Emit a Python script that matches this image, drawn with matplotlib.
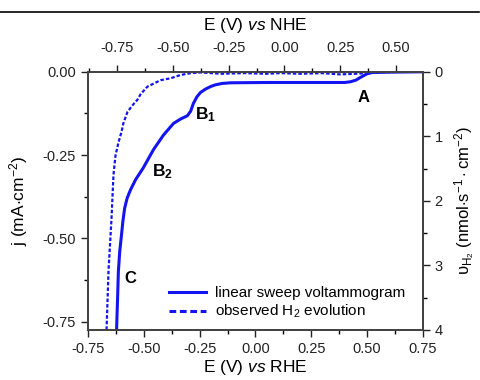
import matplotlib as mpl
mpl.use('Agg')
from matplotlib import pyplot as plt
from matplotlib.lines import Line2D
from matplotlib.ticker import MultipleLocator

plt.rcParams['font.family'] = ['Liberation Sans', 'DejaVu Sans']
plt.rcParams['mathtext.fontset'] = 'custom'
plt.rcParams['mathtext.rm'] = 'Liberation Sans'
plt.rcParams['mathtext.it'] = 'Liberation Sans:italic'
plt.rcParams['mathtext.bf'] = 'Liberation Sans:bold'

# linear sweep voltammogram: E (V vs RHE), j (mA cm-2)
lsv_e = [-0.622, -0.620, -0.618, -0.614, -0.608, -0.600, -0.594, -0.586, -0.575,
         -0.560, -0.537, -0.502, -0.457, -0.412, -0.367, -0.336, -0.305, -0.290,
         -0.278, -0.262, -0.246, -0.224, -0.200, -0.179, -0.150, -0.112, 0.054,
         0.20, 0.40, 0.425, 0.45, 0.47, 0.50, 0.524, 0.60, 0.75]
lsv_j = [-0.775, -0.73, -0.69, -0.60, -0.54, -0.49, -0.45, -0.41, -0.38,
         -0.355, -0.324, -0.288, -0.234, -0.19, -0.155, -0.142, -0.132, -0.118,
         -0.095, -0.075, -0.062, -0.052, -0.044, -0.039, -0.035, -0.033, -0.032,
         -0.032, -0.032, -0.030, -0.025, -0.017, -0.006, -0.002, -0.001, 0.0]

# observed H2 evolution: E (V vs RHE), rate (nmol s-1 cm-2)
h2_e = [-0.667, -0.658, -0.645, -0.636, -0.627, -0.614, -0.600, -0.591, -0.573,
        -0.546, -0.530, -0.515, -0.484, -0.425, -0.380, -0.336, -0.290, -0.246,
        -0.150, -0.050, 0.05, 0.112, 0.20, 0.30, 0.38, 0.45, 0.55, 0.65, 0.75]
h2_v = [4.0, 3.07, 2.29, 1.60, 1.30, 1.10, 0.93, 0.79, 0.62,
        0.50, 0.44, 0.35, 0.23, 0.13, 0.10, 0.05, 0.02, 0.01,
        0.03, 0.02, 0.03, 0.02, 0.03, 0.02, 0.04, 0.03, 0.01, 0.0, 0.0]

nhe_shift = 0.13  # E(NHE) = E(RHE) - shift

blue = '#1414f0'

fig = plt.figure(figsize=(4.81, 3.80), dpi=100)
ax = fig.add_axes([0.183, 0.132, 0.696, 0.679])

ax.plot(lsv_e, lsv_j, color=blue, lw=2.2, label='linear sweep voltammogram')
ax.set_xlim(-0.75, 0.75)
ax.set_ylim(-0.775, 0.0)
ax.xaxis.set_major_locator(MultipleLocator(0.25))
ax.xaxis.set_minor_locator(MultipleLocator(0.125))
ax.yaxis.set_major_locator(MultipleLocator(0.25))
ax.yaxis.set_minor_locator(MultipleLocator(0.125))
ax.xaxis.set_major_formatter(mpl.ticker.FormatStrFormatter('%.2f'))
ax.yaxis.set_major_formatter(mpl.ticker.FormatStrFormatter('%.2f'))
ax.set_xlabel(r'E (V) $\mathit{vs}$ RHE', fontsize=12.5, labelpad=2)
ax.set_ylabel(r'j (mA$\cdot$cm$^{-2}$)', fontsize=12.5, labelpad=9)

ax2 = ax.twinx()
ax2.plot(h2_e, h2_v, color=blue, lw=1.6, linestyle=(0, (1.6, 0.9)),
         label=r'observed H$_2$ evolution')
ax2.set_ylim(4, 0)
ax2.yaxis.set_major_locator(MultipleLocator(1))
ax2.yaxis.set_minor_locator(MultipleLocator(0.5))
ax2.set_ylabel(r'υ$_{\mathrm{H_2}}$ (nmol$\cdot$s$^{-1}\cdot$cm$^{-2}$)', fontsize=12,
               labelpad=7)

ax3 = ax.twiny()
ax3.set_xlim(-0.75 - nhe_shift, 0.75 - nhe_shift)
ax3.xaxis.set_major_locator(MultipleLocator(0.25))
ax3.xaxis.set_minor_locator(MultipleLocator(0.125))
ax3.xaxis.set_major_formatter(mpl.ticker.FormatStrFormatter('%.2f'))
ax3.set_xlabel(r'E (V) $\mathit{vs}$ NHE', fontsize=12.5, labelpad=8)

for a in (ax, ax2, ax3):
    a.tick_params(which='major', length=5, width=1, labelsize=10.5, colors='#222222')
    a.tick_params(which='minor', length=3, width=1)
    for s in a.spines.values():
        s.set_color('#444444')
        s.set_linewidth(1.2)
ax3.tick_params(which='major', pad=7)

# peak labels
ax.text(0.484, -0.078, 'A', fontsize=12, fontweight='bold', ha='center', va='center')
ax.text(-0.224, -0.130, r'$\mathbf{B}_{\mathbf{1}}$', fontsize=12.5, ha='center', va='center')
ax.text(-0.417, -0.300, r'$\mathbf{B}_{\mathbf{2}}$', fontsize=12.5, ha='center', va='center')
ax.text(-0.560, -0.620, 'C', fontsize=12, fontweight='bold', ha='center', va='center')

h1 = Line2D([], [], color=blue, lw=2.2)
h2 = Line2D([], [], color=blue, lw=2.2, linestyle=(0, (2.2, 1.2)))
ax.legend([h1, h2], ['linear sweep voltammogram', r'observed H$_2$ evolution'],
          loc='lower left', bbox_to_anchor=(0.21, -0.005), frameon=False,
          fontsize=11, handlelength=2.4, handletextpad=0.6, labelspacing=0.2,
          borderpad=0.2)

fig.add_artist(Line2D([0.0, 0.995], [1 - 12 / 380, 1 - 12 / 380], color='black', lw=1.2))

fig.savefig('out.png', dpi=100)
